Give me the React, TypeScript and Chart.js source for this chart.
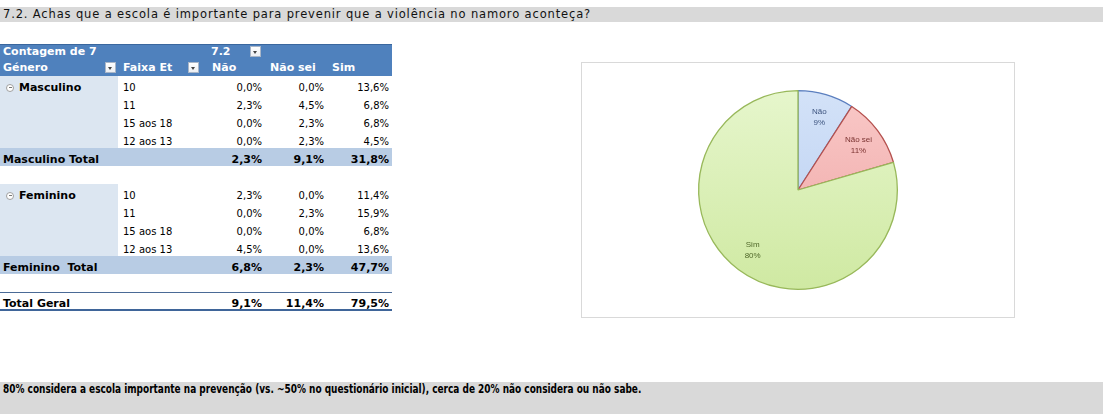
import React, { useEffect, useRef } from 'react';
import { Chart, registerables } from 'chart.js';

Chart.register(...registerables);

// ---------- data ----------
const titleText = '7.2. Achas que a escola é importante para prevenir que a violência no namoro aconteça?';
const captionText = '80% considera a escola importante na prevenção (vs. ~50% no questionário inicial), cerca de 20% não considera ou não sabe.';

const answerLabels = ['Não', 'Não sei', 'Sim'];
const ageGroups = ['10', '11', '15 aos 18', '12 aos 13'];

const masculinoNao = [0.0, 2.3, 0.0, 0.0];
const masculinoNaoSei = [0.0, 4.5, 2.3, 2.3];
const masculinoSim = [13.6, 6.8, 6.8, 4.5];
const masculinoTotal = [2.3, 9.1, 31.8];

const femininoNao = [2.3, 0.0, 0.0, 4.5];
const femininoNaoSei = [0.0, 2.3, 0.0, 0.0];
const femininoSim = [11.4, 15.9, 6.8, 13.6];
const femininoTotal = [6.8, 2.3, 47.7];

const totalGeral = [9.1, 11.4, 79.5];

// ---------- styles ----------
const sliceFillTop = ['#d3e2f8', '#f9c9c8', '#e6f6cc'];
const sliceFillBottom = ['#b7cdf0', '#eea3a2', '#cfe9a2'];
const sliceBorders = ['#5b7fbf', '#b4504d', '#98b85a'];
const sliceLabelColors = ['#3d547f', '#7b3331', '#50682a'];

const FONT = '"DejaVu Sans", Verdana, sans-serif';
const HEADER_BLUE = '#4f81bd';
const LIGHT_BLUE = '#dce6f1';
const TOTAL_BLUE = '#b8cce4';

const COL_X = [0, 118, 207, 265, 327, 392];
const DATA_TOP = 76;
const ROW_H = 18;

const fmt = (v: number) => v.toFixed(1).replace('.', ',') + '%';

function T(props: { x: number; y: number; w?: number; text: string; bold?: boolean; size?: number; color?: string; right?: boolean }) {
  const { x, y, w, text, bold, size, color, right } = props;
  return (
    <div
      style={{
        position: 'absolute',
        left: x,
        top: y - 6,
        width: w,
        height: 12,
        lineHeight: '12px',
        fontFamily: FONT,
        fontSize: size ?? (bold ? 11 : 10),
        fontWeight: bold ? 700 : 400,
        color: color ?? '#000',
        textAlign: right ? 'right' : 'left',
        whiteSpace: 'pre',
      }}
    >
      {text}
    </div>
  );
}

function Box(props: { x: number; y: number; w: number; h: number; bg: string; extra?: React.CSSProperties }) {
  const { x, y, w, h, bg, extra } = props;
  return <div style={{ position: 'absolute', left: x, top: y, width: w, height: h, background: bg, ...extra }} />;
}

function Drop(props: { x: number; y: number }) {
  return (
    <div
      style={{
        position: 'absolute',
        left: props.x,
        top: props.y,
        width: 11,
        height: 11,
        boxSizing: 'border-box',
        background: 'linear-gradient(#ffffff, #eceff3)',
        border: '1px solid #a9b6c8',
      }}
    >
      <div
        style={{
          position: 'absolute',
          left: 2,
          top: 4,
          width: 0,
          height: 0,
          borderLeft: '2.5px solid transparent',
          borderRight: '2.5px solid transparent',
          borderTop: '3px solid #444',
        }}
      />
    </div>
  );
}

function Exp(props: { x: number; y: number }) {
  return (
    <div
      style={{
        position: 'absolute',
        left: props.x,
        top: props.y - 4,
        width: 8,
        height: 8,
        boxSizing: 'border-box',
        borderRadius: '50%',
        border: '1px solid #a0a0a0',
        background: '#fff',
      }}
    >
      <div style={{ position: 'absolute', left: 1.5, top: 2.5, width: 3, height: 1, background: '#777' }} />
    </div>
  );
}

const rowTop = (i: number) => DATA_TOP + i * ROW_H;
const rowMid = (i: number) => rowTop(i) + 11.5;

function ValueCells(props: { row: number; values: number[]; bold?: boolean }) {
  return (
    <>
      {props.values.map((v, c) => (
        <T
          key={c}
          x={COL_X[c + 2]}
          w={COL_X[c + 3] - COL_X[c + 2] - 3}
          y={rowMid(props.row)}
          text={fmt(v)}
          bold={props.bold}
          right
        />
      ))}
    </>
  );
}

function Group(props: { name: string; first: number; nao: number[]; naoSei: number[]; sim: number[]; total: number[]; totalLabel: string }) {
  const { name, first, nao, naoSei, sim, total, totalLabel } = props;
  return (
    <>
      <Box x={0} y={rowTop(first)} w={COL_X[1]} h={ROW_H * ageGroups.length} bg={LIGHT_BLUE} />
      <Exp x={6} y={rowMid(first)} />
      <T x={19} y={rowMid(first)} text={name} bold />
      {ageGroups.map((g, i) => (
        <React.Fragment key={g}>
          <T x={COL_X[1] + 5} y={rowMid(first + i)} text={g} />
          <ValueCells row={first + i} values={[nao[i], naoSei[i], sim[i]]} />
        </React.Fragment>
      ))}
      <Box x={0} y={rowTop(first + ageGroups.length)} w={COL_X[5]} h={ROW_H} bg={TOTAL_BLUE} />
      <T x={3} y={rowMid(first + ageGroups.length)} text={totalLabel} bold />
      <ValueCells row={first + ageGroups.length} values={total} bold />
    </>
  );
}

export default function App() {
  const canvasRef = useRef<HTMLCanvasElement>(null);

  useEffect(() => {
    const labelPlugin = {
      id: 'sliceLabels',
      afterDatasetsDraw(chart: any) {
        const meta = chart.getDatasetMeta(0);
        const data = chart.data.datasets[0].data as number[];
        const total = data.reduce((a, b) => a + b, 0);
        const c = chart.ctx as CanvasRenderingContext2D;
        c.save();
        c.font = '8px "Liberation Sans", Arial, sans-serif';
        c.textAlign = 'center';
        c.textBaseline = 'middle';
        meta.data.forEach((arc: any, i: number) => {
          const p = arc.getProps(['x', 'y', 'startAngle', 'endAngle', 'outerRadius'], true);
          const mid = (p.startAngle + p.endAngle) / 2;
          const r = p.outerRadius * 0.76;
          const px = p.x + Math.cos(mid) * r;
          const py = p.y + Math.sin(mid) * r;
          c.fillStyle = sliceLabelColors[i];
          c.fillText(String(chart.data.labels[i]), px, py - 5.5);
          c.fillText(Math.round((data[i] / total) * 100) + '%', px, py + 5.5);
        });
        c.restore();
      },
    };

    const chart = new Chart(canvasRef.current as HTMLCanvasElement, {
      type: 'pie',
      data: {
        labels: answerLabels,
        datasets: [
          {
            data: totalGeral,
            backgroundColor: (ctx: any) => {
              const i = ctx.dataIndex;
              const area = ctx.chart.chartArea;
              if (!area) return sliceFillTop[i];
              const g = ctx.chart.ctx.createLinearGradient(0, area.top, 0, area.bottom);
              g.addColorStop(0, sliceFillTop[i]);
              g.addColorStop(1, sliceFillBottom[i]);
              return g;
            },
            borderColor: sliceBorders,
            borderWidth: 1.3,
          },
        ],
      },
      options: {
        animation: false,
        responsive: true,
        maintainAspectRatio: false,
        layout: { padding: { top: 27, bottom: 27 } },
        plugins: { legend: { display: false }, tooltip: { enabled: false } },
      },
      plugins: [labelPlugin],
    });
    return () => chart.destroy();
  }, []);

  return (
    <div style={{ position: 'fixed', left: 0, top: 0, width: 1103, height: 414, background: '#fff', overflow: 'hidden' }}>
      {/* title bar */}
      <Box x={0} y={7} w={1103} h={15} bg="#d9d9d9" />
      <div
        style={{
          position: 'absolute',
          left: 3,
          top: 7,
          height: 15,
          lineHeight: '15px',
          fontFamily: '"DejaVu Sans", sans-serif',
          fontSize: 11.5,
          letterSpacing: 0.85,
          color: '#111',
          whiteSpace: 'pre',
        }}
      >
        {titleText}
      </div>

      {/* pivot table header */}
      <Box x={0} y={44} w={COL_X[5]} h={32} bg={HEADER_BLUE} extra={{ borderTop: '1px solid #3a679e', boxSizing: 'border-box' }} />
      <T x={3} y={52} text="Contagem de 7" bold color="#fff" />
      <T x={COL_X[2] + 4} y={52} text="7.2" bold color="#fff" />
      <Drop x={250} y={46} />
      <T x={3} y={68} text="Género" bold color="#fff" />
      <Drop x={105} y={62} />
      <T x={COL_X[1] + 5} y={68} text="Faixa Et" bold color="#fff" />
      <Drop x={188} y={62} />
      {answerLabels.map((a, i) => (
        <T key={a} x={COL_X[i + 2] + 5} y={68} text={a} bold color="#fff" />
      ))}

      <Group name="Masculino" first={0} nao={masculinoNao} naoSei={masculinoNaoSei} sim={masculinoSim} total={masculinoTotal} totalLabel="Masculino Total" />
      <Group name="Feminino" first={6} nao={femininoNao} naoSei={femininoNaoSei} sim={femininoSim} total={femininoTotal} totalLabel="Feminino  Total" />

      {/* total geral */}
      <Box x={0} y={rowTop(12)} w={COL_X[5]} h={1} bg="#4a6a96" />
      <Box x={0} y={rowTop(13) - 1} w={COL_X[5]} h={2} bg="#3f6599" />
      <T x={3} y={rowMid(12)} text="Total Geral" bold />
      <ValueCells row={12} values={totalGeral} bold />

      {/* pie chart */}
      <div
        style={{
          position: 'absolute',
          left: 581,
          top: 62,
          width: 434,
          height: 256,
          boxSizing: 'border-box',
          border: '1px solid #d9d9d9',
          background: '#fff',
        }}
      >
        <div style={{ position: 'relative', width: 432, height: 254 }}>
          <canvas ref={canvasRef} />
        </div>
      </div>

      {/* caption bar */}
      <Box x={0} y={382} w={1103} h={32} bg="#d9d9d9" />
      <div
        style={{
          position: 'absolute',
          left: 3,
          top: 382,
          height: 14,
          lineHeight: '14px',
          fontFamily: '"DejaVu Sans Condensed", "DejaVu Sans", sans-serif',
          fontSize: 12,
          fontWeight: 700,
          color: '#000',
          whiteSpace: 'pre',
          transform: 'scaleX(0.83)',
          transformOrigin: 'left center',
        }}
      >
        {captionText}
      </div>
    </div>
  );
}
